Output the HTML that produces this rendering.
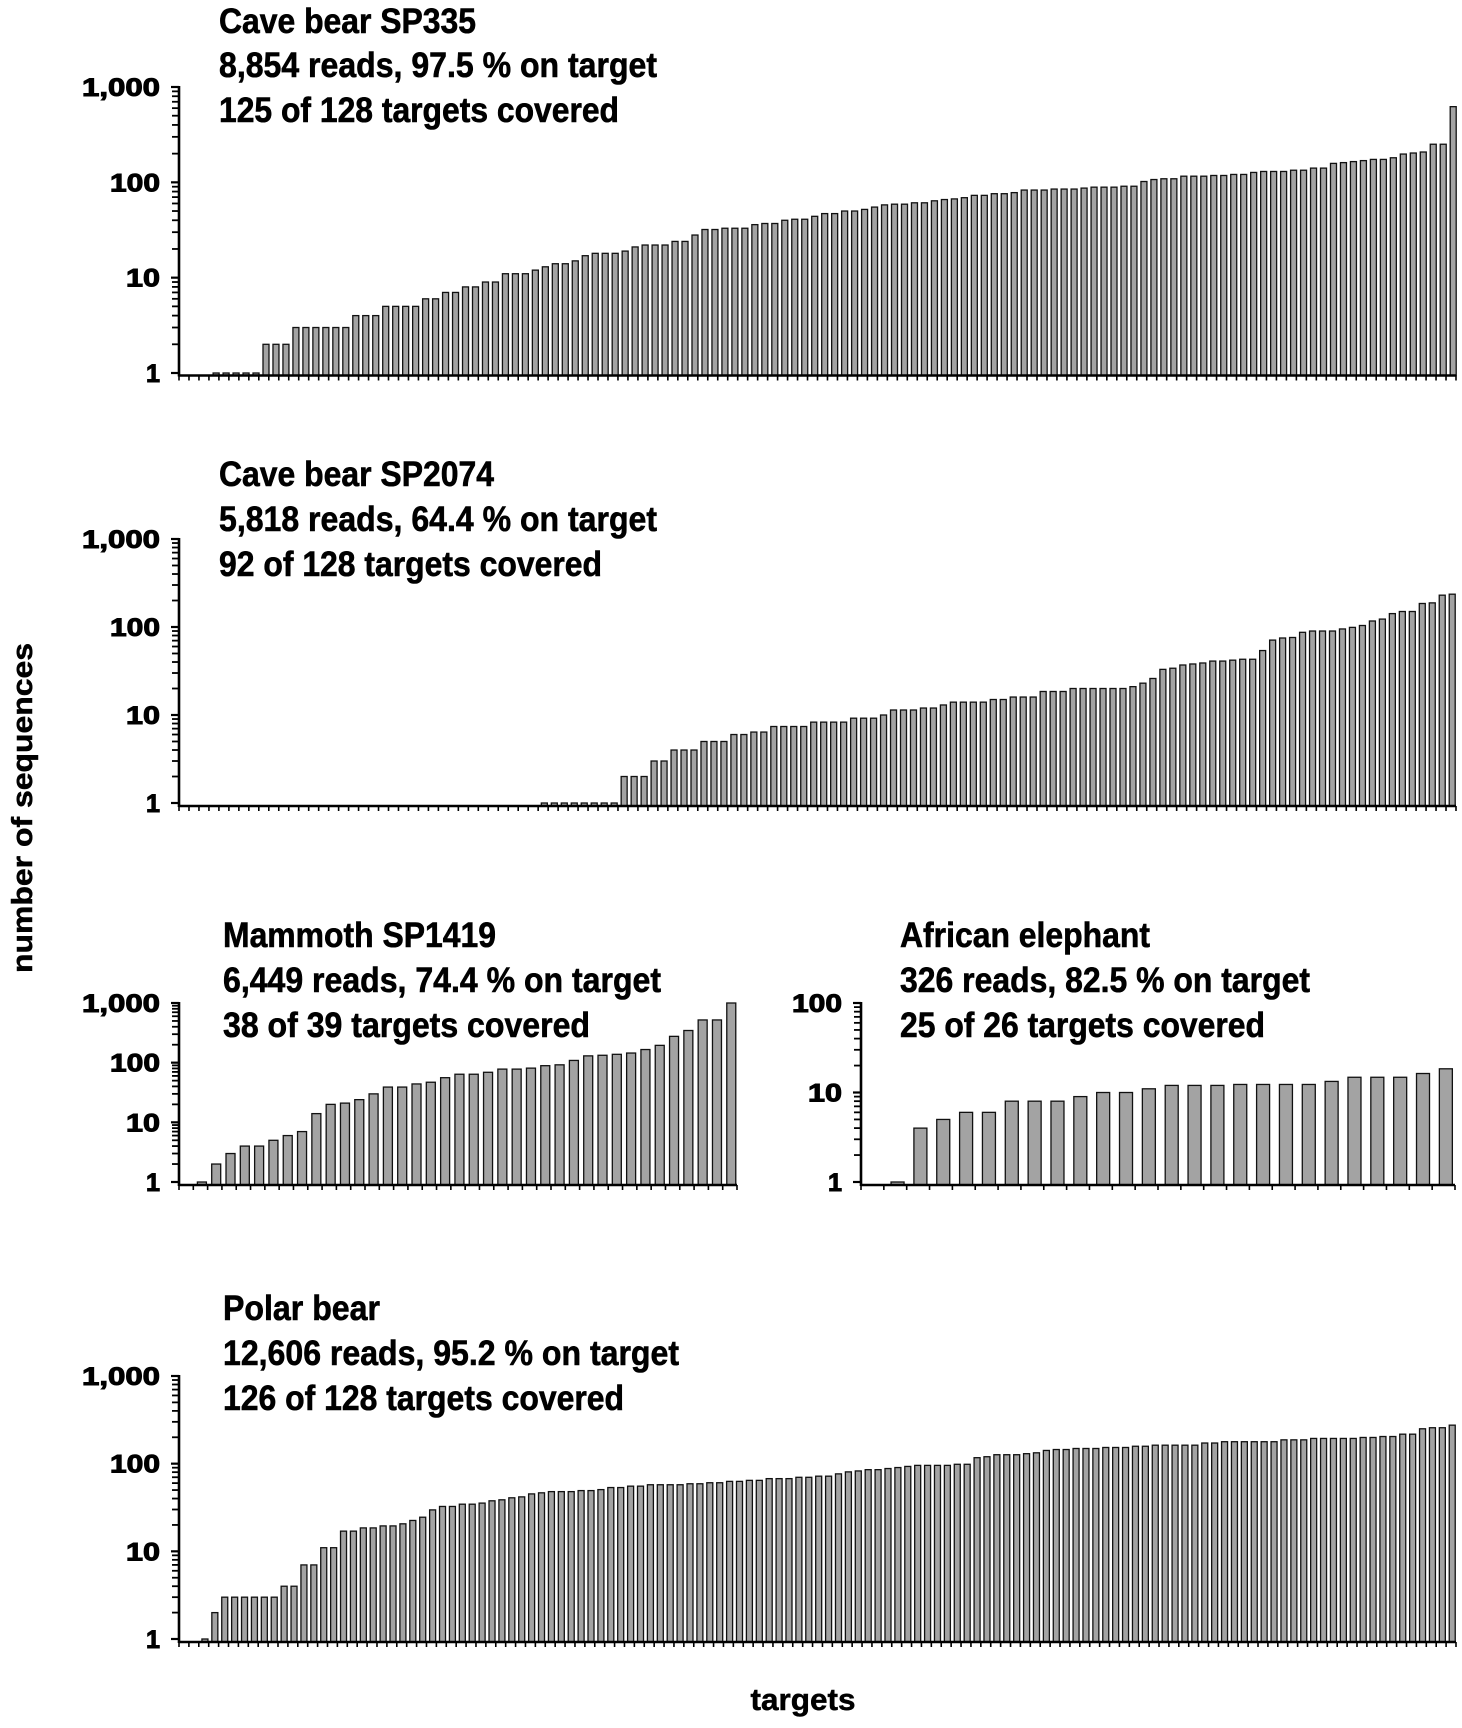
<!DOCTYPE html>
<html><head><meta charset="utf-8"><style>
html,body{margin:0;padding:0;background:#fff;}
svg{display:block;font-family:"Liberation Sans",Arial,sans-serif;}
</style></head><body>
<svg id="fig" width="1462" height="1728" viewBox="0 0 1462 1728" xmlns="http://www.w3.org/2000/svg">
<text x="0" y="0" transform="translate(32,808) rotate(-90)" text-anchor="middle" font-weight="bold" font-size="29" stroke="#000" stroke-width="0.5" textLength="330" lengthAdjust="spacingAndGlyphs">number of sequences</text>
<text x="803" y="1710" text-anchor="middle" font-weight="bold" font-size="31" stroke="#000" stroke-width="0.5" textLength="105" lengthAdjust="spacingAndGlyphs">targets</text>
</svg>
<script>
const caveBear335Values = [0,0,0,1,1,1,1,1,2,2,2,3,3,3,3,3,3,4,4,4,5,5,5,5,6,6,7,7,8,8,9,9,11,11,11,12,13,14,14,15,17,18,18,18,19,21,22,22,22,24,24,28,32,32,33,
33,33,36,37,37,40,41,41,44,47,47,50,50,52,55,58,59,59,61,61,64,66,67,69,73,73,76,76,78,83,83,83,85,85,85,87,89,89,89,91,91,102,107,109,109,116,116,116,118,118,121,121,127,130,130,130,134,134,141,141,158,161,165,169,174,174,181,198,203,208,251,251,622];
const caveBear2074Values = [0,0,0,0,0,0,0,0,0,0,0,0,0,0,0,0,0,0,0,0,0,0,0,0,0,0,0,0,0,0,0,0,0,0,0,0,
1,1,1,1,1,1,1,1,2,2,2,3,3,4,4,4,5,5,5,6,6,6.4,6.4,7.4,7.4,7.4,7.4,8.3,8.3,8.3,8.3,9.2,9.2,9.2,10,11.4,11.4,11.4,12,12,13,14,14,14,14,15,
15,16,16,16,18.5,18.5,18.5,20,20,20,20,20,20,21,23,26,33,34,37,38,39,41,41,42,43,43,54,71,75,76,87,90,90,90,95,99,104,117,123,142,150,150,185,188,230,236];
const mammothValues = [0,1,2,3,4,4,5,6,7,14,20,21,24,30,39,39,44,47,56,64,64,69,78,78,81,89,92,109,130,133,138,145,166,195,276,346,520,520,1000];
const elephantValues = [0,1,4,5,6,6,8,8,8,9,10,10,11,12,12,12,12.3,12.3,12.3,12.3,13.3,14.8,14.8,14.8,16.3,18.4];
const polarBearValues = [0,0,1,2,3,3,3,3,3,3,4,4,7,7,11,11,17,17,18.5,18.5,19.5,19.5,20.6,22.5,24.5,29.7,32.5,32.5,34.5,34.5,35.5,37.7,38.7,40.8,41.8,45.2,46.5,48,48,48,49.3,49.3,50.6,53.4,53.4,55.4,55.4,57.5,57.5,57.5,57.5,59,59,60.6,60.6,62.8,62.8,64.5,64.5,67.5,67.5,67.5,69.9,69.9,72,
72,76.5,80.6,82.6,85.4,85.4,88,90.3,93,95.6,95.6,95.6,95.6,98.4,98.4,117,120,126.5,126.5,126.5,130,133,141.5,145,145,149,149,149,153,153,153,158,158,162.5,162.5,162.5,162.5,162.5,172,172,178,178,178,178,178,178,187,187,187,194,194,194,194,194,199,199,204,204,217,217,250,257,257,275];
const panelTitles = [
 ["Cave bear SP335","8,854 reads, 97.5 % on target","125 of 128 targets covered"],
 ["Cave bear SP2074","5,818 reads, 64.4 % on target","92 of 128 targets covered"],
 ["Mammoth SP1419","6,449 reads, 74.4 % on target","38 of 39 targets covered"],
 ["African elephant","326 reads, 82.5 % on target","25 of 26 targets covered"],
 ["Polar bear","12,606 reads, 95.2 % on target","126 of 128 targets covered"]
];
const tickLabels3 = ["1","10","100","1,000"];
const tickLabels2 = ["1","10","100"];

const NS="http://www.w3.org/2000/svg";
const svg=document.getElementById('fig');
function mk(tag,attrs,parent){const e=document.createElementNS(NS,tag);for(const k in attrs)e.setAttribute(k,attrs[k]);(parent||svg).appendChild(e);return e;}
const labelW={"1":14,"10":34,"100":50,"1,000":78};

function panel(name,values,titles,labels,g){
  const grp=mk('g',{});
  
  
  const dec=labels.length-1;
  const decPx=(g.y1-g.yTop)/dec;
  const yScale=v=>g.y1-Math.log10(v)*decPx;
  const n=values.length, pitch=(g.x1-g.x0)/n;
  titles.forEach((t,i)=>{
    const tx=mk('text',{x:g.tx,y:g.ty[i],'font-size':35,'font-weight':'bold',stroke:'#000','stroke-width':0.6,textLength:g.tw[i],lengthAdjust:'spacingAndGlyphs'},grp);
    
    
    tx.textContent=t;
  });
  values.forEach((v,i)=>{
    if(v<=0)return;
    const cx=g.x0+(i+g.off)*pitch;
    const yt=yScale(v);
    const r=mk('rect',{x:cx-g.bw/2,y:yt,width:g.bw,height:Math.max(g.axisY-yt,1),fill:'#a3a3a3',stroke:'#111','stroke-width':1.3},grp);
    
    
  });
  const xa=mk('line',{x1:g.x0,y1:g.axisY,x2:g.x1,y2:g.axisY,stroke:'#000','stroke-width':2.6},grp);
  
  
  for(let i=0;i<=n;i++){
    const x=g.x0+i*pitch;
    mk('line',{x1:x,y1:g.axisY,x2:x,y2:g.axisY+5,stroke:'#000','stroke-width':1.6},grp);
  }
  const ya=mk('line',{x1:g.x0,y1:g.yTop-1,x2:g.x0,y2:g.axisY+1,stroke:'#000','stroke-width':2.6},grp);
  
  
  for(let d=0;d<=dec;d++){
    const y=yScale(Math.pow(10,d));
    mk('line',{x1:g.x0-8,y1:y,x2:g.x0,y2:y,stroke:'#000','stroke-width':2.2},grp);
    const lb=mk('text',{x:g.x0-19,y:y+9,'text-anchor':'end','font-size':25,'font-weight':'bold',stroke:'#000','stroke-width':1,textLength:labelW[labels[d]],lengthAdjust:'spacingAndGlyphs'},grp);
    
    
    lb.textContent=labels[d];
    if(d<dec){for(let m=2;m<=9;m++){const ym=yScale(m*Math.pow(10,d));mk('line',{x1:g.x0-7,y1:ym,x2:g.x0,y2:ym,stroke:'#000','stroke-width':1.8},grp);}}
  }
}
panel('panel-cave-bear-sp335',caveBear335Values,panelTitles[0],tickLabels3,{x0:179,x1:1456,yTop:87,y1:373,axisY:375.5,off:0.72,bw:6,tx:219,ty:[33,77,122],tw:[257,438,400]});
panel('panel-cave-bear-sp2074',caveBear2074Values,panelTitles[1],tickLabels3,{x0:179,x1:1456,yTop:539,y1:803,axisY:806,off:0.62,bw:6,tx:219,ty:[486,531,576],tw:[275,438,383]});
panel('panel-mammoth-sp1419',mammothValues,panelTitles[2],tickLabels3,{x0:179,x1:737,yTop:1003,y1:1182,axisY:1185,off:0.6,bw:9,tx:223,ty:[947,992,1037],tw:[273,438,367]});
panel('panel-african-elephant',elephantValues,panelTitles[3],tickLabels2,{x0:861,x1:1455,yTop:1003,y1:1182,axisY:1185,off:0.6,bw:13,tx:900,ty:[947,992,1037],tw:[250,410,365]});
panel('panel-polar-bear',polarBearValues,panelTitles[4],tickLabels3,{x0:179,x1:1456,yTop:1376,y1:1639,axisY:1642,off:0.62,bw:6,tx:223,ty:[1320,1365,1410],tw:[157,456,401]});
</script>
</body></html>
